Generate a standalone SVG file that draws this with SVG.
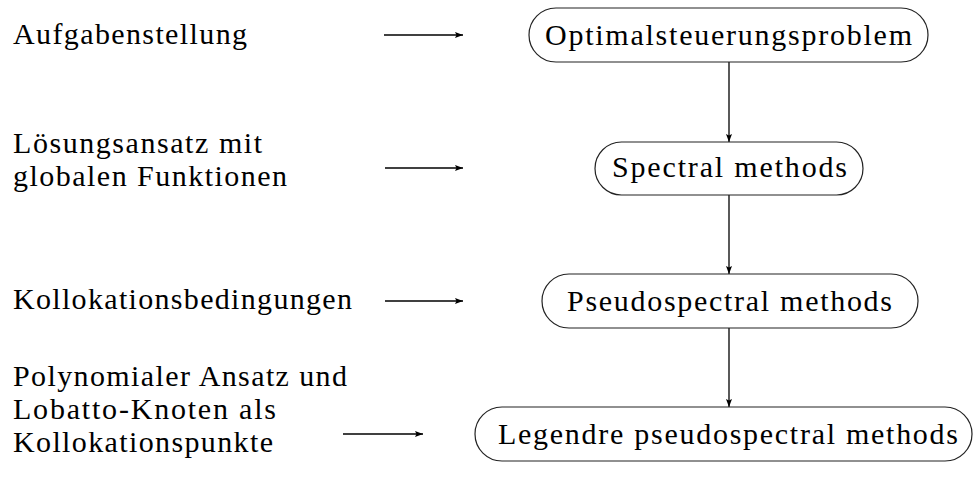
<svg xmlns="http://www.w3.org/2000/svg" width="973" height="478" viewBox="0 0 973 478">
<style>
.box{fill:#fff;stroke:#222;stroke-width:1.2}
.t{font-size:30px;fill:#000}
.c{text-anchor:middle}
.ln{stroke:#000;stroke-width:1.3;fill:none;marker-end:url(#ah)}
</style>
<defs>
<marker id="ah" markerUnits="userSpaceOnUse" markerWidth="9" markerHeight="7" refX="8" refY="3" orient="auto">
<path d="M0,0 L8,3 L0,6 L1.5,3 z" fill="#000"/>
</marker>
</defs>
<g id="connectors">
<line class="ln" x1="384" y1="35" x2="463" y2="35"/>
<line class="ln" x1="385" y1="168" x2="463" y2="168"/>
<line class="ln" x1="385" y1="301" x2="463" y2="301"/>
<line class="ln" x1="343" y1="434" x2="423" y2="434"/>
<line class="ln" x1="729" y1="62" x2="729" y2="142"/>
<line class="ln" x1="729" y1="195" x2="729" y2="274"/>
<line class="ln" x1="729" y1="328" x2="729" y2="407"/>
</g>
<g font-family="Liberation Serif, DejaVu Serif, serif">
<g id="label1"><text class="t" x="13" y="44" textLength="234">Aufgabenstellung</text></g>
<g id="label2">
<text class="t" x="13" y="153" textLength="249">Lösungsansatz mit</text>
<text class="t" x="13" y="186" textLength="274">globalen Funktionen</text>
</g>
<g id="label3"><text class="t" x="13" y="309" textLength="339">Kollokationsbedingungen</text></g>
<g id="label4">
<text class="t" x="13" y="386" textLength="334">Polynomialer Ansatz und</text>
<text class="t" x="13" y="419" textLength="263">Lobatto-Knoten als</text>
<text class="t" x="13" y="452" textLength="260">Kollokationspunkte</text>
</g>
<g id="node1">
<rect class="box" x="529" y="8" width="399" height="54" rx="27"/>
<text class="t c" x="728.5" y="45" textLength="367">Optimalsteuerungsproblem</text>
</g>
<g id="node2">
<rect class="box" x="595" y="142" width="268" height="53" rx="26.5"/>
<text class="t c" x="729.5" y="177" textLength="235">Spectral methods</text>
</g>
<g id="node3">
<rect class="box" x="542" y="274" width="376" height="54" rx="27"/>
<text class="t c" x="729.5" y="311" textLength="325">Pseudospectral methods</text>
</g>
<g id="node4">
<rect class="box" x="475" y="407" width="497" height="54" rx="27"/>
<text class="t c" x="728" y="444" textLength="460">Legendre pseudospectral methods</text>
</g>
</g>
</svg>
